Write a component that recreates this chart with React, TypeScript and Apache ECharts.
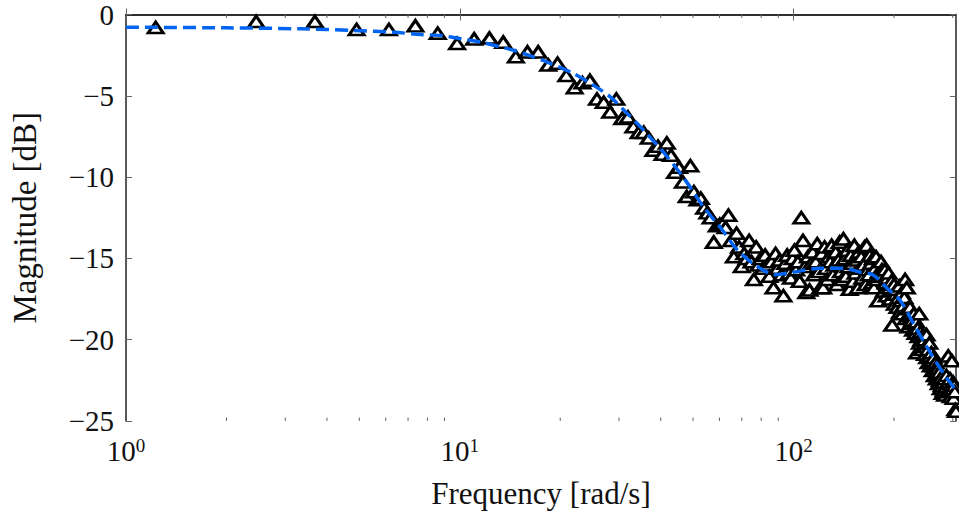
import React, { useEffect, useRef } from "react";
import * as echarts from "echarts";

// Measured frequency grid step (rad/s) and magnitudes [dB] of the 250 measured points
const freqStep = 1.2272;
const measuredMag = [
  -0.8, -0.43, -0.43, -0.92, -0.92, -0.7, -1.15, -1.78, -1.5, -1.45,
  -1.7, -2.6, -2.3, -2.3, -3.1, -3.0, -3.75, -4.5, -4.2, -4.05,
  -5.2, -5.4, -6.0, -5.2, -6.4, -6.3, -6.9, -7.25, -7.25, -7.6,
  -8.35, -8.1, -8.6, -7.9, -8.65, -9.7, -9.4, -10.3, -11.2, -9.3,
  -10.9, -11.4, -11.3, -11.9, -12.2, -12.5, -14.0, -13.0, -12.9, -12.85,
  -13.1, -12.35, -13.9, -14.9, -13.45, -14.3, -15.5, -14.7, -15.0, -13.9,
  -15.2, -16.3, -14.3, -15.4, -15.0, -15.6, -14.8, -15.4, -16.1, -15.2,
  -16.8, -14.7, -15.6, -15.1, -16.0, -17.3, -15.3, -14.8, -15.9, -16.2,
  -15.0, -14.5, -15.7, -15.2, -16.4, -12.5, -13.9, -15.5, -17.1, -14.9,
  -16.95, -15.3, -14.6, -16.0, -15.2, -14.1, -15.8, -16.8, -14.7, -16.8,
  -14.3, -15.6, -16.3, -14.9, -15.2, -14.2, -16.0, -15.4, -14.6, -16.6,
  -15.1, -14.0, -15.8, -16.3, -13.8, -15.0, -16.1, -14.5, -15.5, -16.9,
  -14.8, -15.3, -16.4, -14.2, -15.9, -15.1, -16.8, -14.6, -15.6, -14.9,
  -16.2, -15.4, -14.3, -16.6, -14.2, -15.7, -16.0, -14.8, -15.3, -16.5,
  -15.0, -16.8, -15.6, -14.9, -16.3, -17.6, -15.8, -16.1, -15.2, -15.7,
  -16.0, -17.0, -15.7, -16.5, -17.3, -16.2, -15.9, -16.8, -17.5, -16.4,
  -19.1, -17.0, -16.6, -17.8, -17.2, -16.9, -18.0, -17.4, -16.7, -18.3,
  -17.6, -17.1, -18.4, -17.9, -17.4, -16.3, -18.7, -16.8, -18.1, -19.2,
  -18.5, -18.0, -19.0, -18.6, -18.8, -19.4, -18.4, -19.0, -19.6, -18.9,
  -20.8, -19.3, -19.8, -18.4, -20.2, -19.5, -20.0, -20.6, -19.7, -20.3,
  -20.0, -20.9, -20.4, -19.7, -21.1, -20.6, -21.4, -20.2, -21.0, -21.6,
  -20.8, -21.3, -21.9, -21.1, -21.6, -22.2, -21.4, -21.7, -22.4, -21.8,
  -22.1, -22.7, -22.0, -22.5, -23.0, -22.3, -22.8, -23.3, -22.6, -23.1,
  -22.4, -23.4, -22.9, -22.2, -23.2, -22.7, -21.0, -22.6, -23.1, -22.4,
  -23.5, -22.9, -21.3, -23.0, -22.6, -23.6, -22.8, -23.2, -24.3, -24.4,
];

// Fitted model curve (dashed)
const fitFreq = [1, 2, 3.34, 4.82, 6.33, 7.64, 8.77, 10.07, 11.55, 13.0, 14.5, 16.3, 18.3, 21.9, 25.2, 28.3, 31.8, 35.6, 42.0, 48.2, 53.8, 60.4, 68.0, 78.0, 88.3, 100, 120.5, 141.2, 158.6, 173.7, 191, 209, 228.7, 257, 281, 301, 306.8];
const fitMag = [-0.78, -0.82, -0.88, -0.98, -1.09, -1.23, -1.29, -1.49, -1.7, -1.95, -2.2, -2.55, -2.93, -3.63, -4.36, -5.08, -6.1, -7.13, -8.78, -10.4, -11.85, -13.1, -14.5, -15.5, -16.0, -15.85, -15.6, -15.6, -15.85, -16.03, -16.85, -17.6, -19.0, -20.8, -22.05, -22.9, -23.2];

// Axis ticks
const yTicks = [0, -5, -10, -15, -20, -25];
const xMajor = [1, 10, 100];
const xMinor = [2, 3, 4, 5, 6, 7, 8, 9, 20, 30, 40, 50, 60, 70, 80, 90, 200, 300];

const FONT = "'Liberation Serif', 'Times New Roman', serif";

export default function App() {
  const ref = useRef<HTMLDivElement>(null);
  useEffect(() => {
    if (!ref.current) return;
    const chart = echarts.init(ref.current, undefined, { renderer: "svg" });
    const xMax = measuredMag.length * freqStep;
    const points = measuredMag.map((m, i) => [(i + 1) * freqStep, m]);
    const fit = fitFreq.map((f, i) => [Math.min(f, xMax), fitMag[i]]);
    const isPow10 = (v: number) => xMajor.some((p) => Math.abs(v - p) < 1e-6);
    const tickColor = "#666";
    const axisBase = {
      type: "log" as const,
      logBase: 10,
      min: 1,
      max: xMax,
      splitLine: { show: false },
      axisLine: { show: true, lineStyle: { color: "#222", width: 1.5 } },
      axisTick: { show: true, inside: true, length: 6, lineStyle: { color: tickColor, width: 1 } },
    };
    chart.setOption({
      animation: false,
      backgroundColor: "#fff",
      grid: { left: 125, top: 14, width: 831, height: 407, show: false },
      xAxis: [
        {
          ...axisBase,
          position: "bottom",
          name: "Frequency [rad/s]",
          nameLocation: "middle",
          nameGap: 57,
          nameTextStyle: { fontFamily: FONT, fontSize: 31, color: "#111" },
          axisLabel: {
            show: true,
            margin: 15,
            fontFamily: FONT,
            color: "#111",
            showMaxLabel: false,
            formatter: (v: number) => (isPow10(v) ? `{b|10}{s|${Math.round(Math.log10(v))}}` : ""),
            rich: {
              b: { fontFamily: FONT, fontSize: 29, lineHeight: 29, color: "#111" },
              s: { fontFamily: FONT, fontSize: 19, lineHeight: 16, verticalAlign: "top", color: "#111" },
            },
          },
        },
        { ...axisBase, position: "top", axisLabel: { show: false } },
      ],
      yAxis: [
        {
          type: "value",
          min: -25,
          max: 0,
          interval: 5,
          position: "left",
          splitLine: { show: false },
          axisLine: { show: true, lineStyle: { color: "#222", width: 1.5 } },
          axisTick: { show: true, inside: true, length: 6, lineStyle: { color: tickColor, width: 1 } },
          axisLabel: {
            margin: 12,
            fontFamily: FONT,
            fontSize: 29,
            color: "#111",
            formatter: (v: number) => (yTicks.includes(v) ? (v < 0 ? "\u2212" + Math.abs(v) : String(v)) : ""),
          },
          name: "Magnitude [dB]",
          nameLocation: "middle",
          nameGap: 85,
          nameTextStyle: { fontFamily: FONT, fontSize: 33, color: "#111" },
        },
        {
          type: "value",
          min: -25,
          max: 0,
          interval: 5,
          position: "right",
          splitLine: { show: false },
          axisLine: { show: true, lineStyle: { color: "#222", width: 1.5 } },
          axisTick: { show: true, inside: true, length: 6, lineStyle: { color: tickColor, width: 1 } },
          axisLabel: { show: false },
        },
      ],
      series: [
        {
          type: "custom",
          xAxisIndex: 0,
          yAxisIndex: 0,
          silent: true,
          clip: false,
          data: xMinor.map((v) => [v, -25]),
          encode: { x: 0, y: 1 },
          renderItem: (_p: any, api: any) => {
            const v = api.value(0);
            const b = api.coord([v, -25]);
            const t = api.coord([v, 0]);
            const st = { stroke: tickColor, lineWidth: 1 };
            return {
              type: "group",
              children: [
                { type: "line", shape: { x1: b[0], y1: b[1], x2: b[0], y2: b[1] - 3.5 }, style: st },
                { type: "line", shape: { x1: t[0], y1: t[1], x2: t[0], y2: t[1] + 3.5 }, style: st },
              ],
            };
          },
          z: 1,
        },
        {
          type: "scatter",
          xAxisIndex: 0,
          yAxisIndex: 0,
          data: points,
          symbol: "triangle",
          symbolSize: [15, 11],
          itemStyle: { color: "#fff", borderColor: "#000", borderWidth: 2.9, opacity: 1 },
          clip: false,
          z: 2,
        },
        {
          type: "line",
          xAxisIndex: 0,
          yAxisIndex: 0,
          data: fit,
          smooth: 0.3,
          showSymbol: false,
          symbol: "none",
          lineStyle: { color: "#0064f0", width: 3.5, type: [13, 6] },
          z: 3,
        },
      ],
    });
    return () => chart.dispose();
  }, []);
  return <div ref={ref} style={{ position: "fixed", left: 0, top: 0, width: 959, height: 518 }} />;
}
